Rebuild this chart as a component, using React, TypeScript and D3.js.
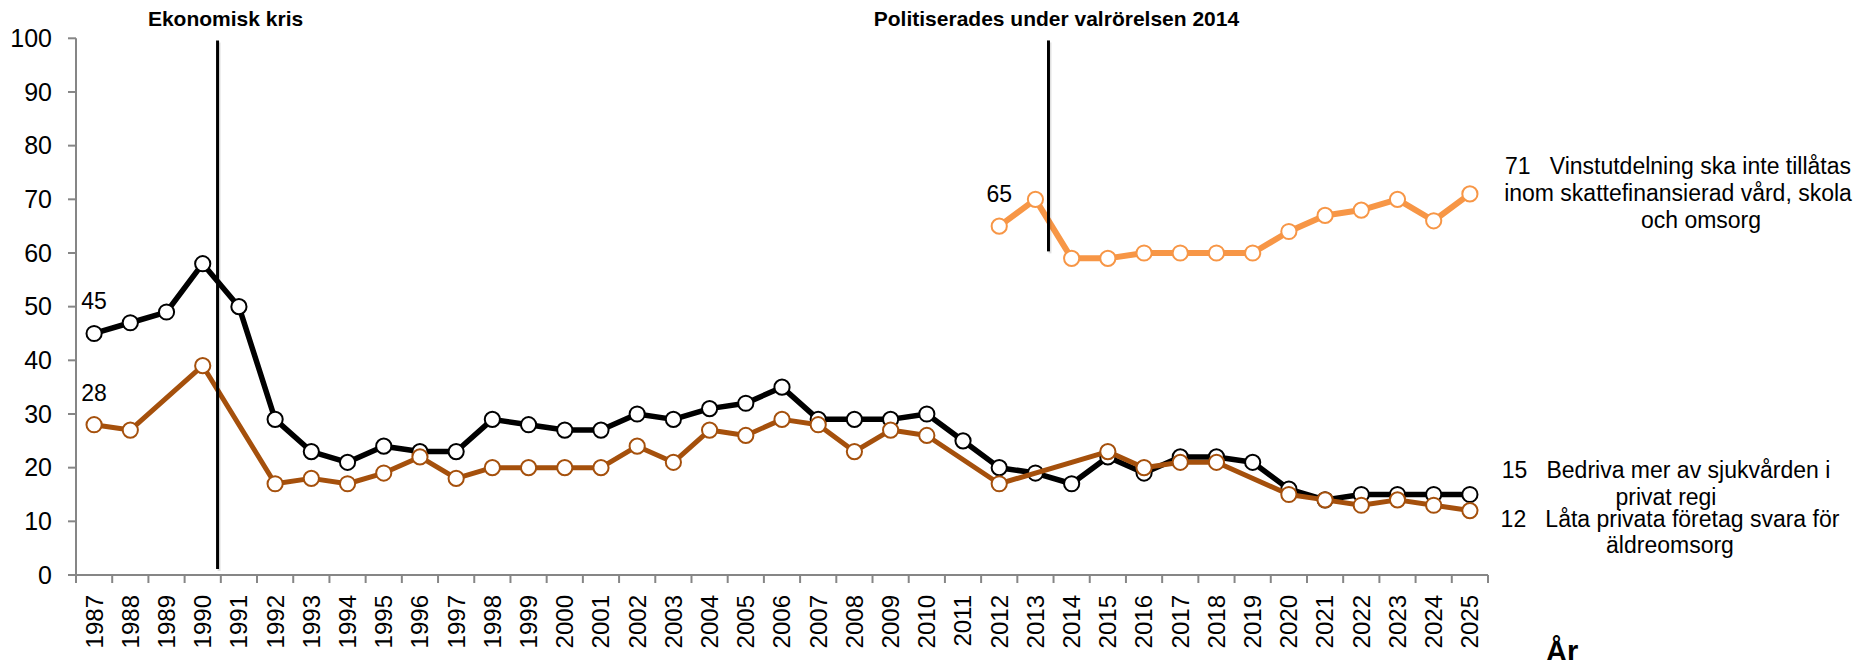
import React from 'react';
import * as d3 from 'd3';

// survey years (x categories)
const YEARS = [
  '1987', '1988', '1989', '1990', '1991', '1992', '1993', '1994', '1995', '1996',
  '1997', '1998', '1999', '2000', '2001', '2002', '2003', '2004', '2005', '2006',
  '2007', '2008', '2009', '2010', '2011', '2012', '2013', '2014', '2015', '2016',
  '2017', '2018', '2019', '2020', '2021', '2022', '2023', '2024', '2025',
];

// Bedriva mer av sjukvården i privat regi
const SJUKVARD: (number | null)[] = [
  45, 47, 49, 58, 50, 29, 23, 21, 24, 23,
  23, 29, 28, 27, 27, 30, 29, 31, 32, 35,
  29, 29, 29, 30, 25, 20, 19, 17, 22, 19,
  22, 22, 21, 16, 14, 15, 15, 15, 15,
];

// Låta privata företag svara för äldreomsorg
const ALDREOMSORG: (number | null)[] = [
  28, 27, null, 39, null, 17, 18, 17, 19, 22,
  18, 20, 20, 20, 20, 24, 21, 27, 26, 29,
  28, 23, 27, 26, null, 17, null, null, 23, 20,
  21, 21, null, 15, 14, 13, 14, 13, 12,
];

// Vinstutdelning ska inte tillåtas inom skattefinansierad vård, skola och omsorg
const VINST: (number | null)[] = [
  null, null, null, null, null, null, null, null, null, null,
  null, null, null, null, null, null, null, null, null, null,
  null, null, null, null, null, 65, 70, 59, 59, 60,
  60, 60, 60, 64, 67, 68, 70, 66, 71,
];

const Y_TICKS = [0, 10, 20, 30, 40, 50, 60, 70, 80, 90, 100];

const W = 1862;
const H = 660;
const FONT = '"Liberation Sans", Arial, Helvetica, sans-serif';
const AXIS = '#868686';

const x = d3.scaleBand<string>().domain(YEARS).range([76, 1488]);
const y = d3.scaleLinear().domain([0, 100]).range([575, 38.3]);
const cx = (yr: string) => (x(yr) ?? 0) + x.bandwidth() / 2;
// continuous year position, for the event markers that sit between years
const xYear = d3.scaleLinear().domain([1987, 2025]).range([cx('1987'), cx('2025')]);

const SERIES = [
  { key: 'sjukvard', values: SJUKVARD, color: '#000000', width: 5.5 },
  { key: 'aldre', values: ALDREOMSORG, color: '#A5500C', width: 5 },
  { key: 'vinst', values: VINST, color: '#F79646', width: 6 },
];

const EVENTS = [
  { label: 'Ekonomisk kris', at: 1990.41, from: 1.1, to: 99.6 },
  { label: 'Politiserades under valrörelsen 2014', at: 2013.36, from: 60.3, to: 99.6 },
];

// first-point value labels
const POINT_LABELS = [
  { series: SJUKVARD, year: '1987' },
  { series: ALDREOMSORG, year: '1987' },
  { series: VINST, year: '2012' },
];

// end labels, right of the plot
const END_LABELS = [
  {
    value: 71,
    lines: ['71   Vinstutdelning ska inte tillåtas', 'inom skattefinansierad vård, skola', 'och omsorg'],
    dxs: [190, 190, 213],
    dys: [-20, 7, 34],
  },
  {
    value: 15,
    lines: ['15   Bedriva mer av sjukvården i', 'privat regi'],
    dxs: [178, 178],
    dys: [-16.5, 10.5],
  },
  {
    value: 12,
    lines: ['12   Låta privata företag svara för', 'äldreomsorg'],
    dxs: [182, 182],
    dys: [16.4, 42.4],
  },
];

const pointsOf = (values: (number | null)[]) =>
  YEARS.map((yr, i) => ({ yr, v: values[i] })).filter(d => d.v !== null) as { yr: string; v: number }[];

const line = d3.line<{ yr: string; v: number }>()
  .x(d => cx(d.yr))
  .y(d => y(d.v));

const App: React.FC = () => {
  const [x0, x1] = x.range();
  const boundaries = YEARS.map(yr => x(yr) ?? 0).concat([x1]);

  return (
    <div style={{ position: 'absolute', left: 0, top: 0 }}>
      <svg width={W} height={H} style={{ display: 'block', fontFamily: FONT }}>
        <rect width={W} height={H} fill="#fff" />

        {/* y axis */}
        <line x1={x0} x2={x0} y1={y(100)} y2={y(0)} stroke={AXIS} strokeWidth={2} />
        {Y_TICKS.map(t => (
          <g key={t}>
            <line x1={x0 - 8} x2={x0} y1={y(t)} y2={y(t)} stroke={AXIS} strokeWidth={2} />
            <text x={52} y={y(t)} dy="0.35em" textAnchor="end" fontSize={25} fill="#000">{t}</text>
          </g>
        ))}

        {/* x axis */}
        <line x1={x0} x2={x1} y1={y(0)} y2={y(0)} stroke={AXIS} strokeWidth={2} />
        {boundaries.map((bx, i) => (
          <line key={i} x1={bx} x2={bx} y1={y(0)} y2={y(0) + 8} stroke={AXIS} strokeWidth={2} />
        ))}
        {YEARS.map(yr => (
          <text
            key={yr}
            transform={`translate(${cx(yr)},${y(0) + 20}) rotate(-90)`}
            dy="0.35em"
            textAnchor="end"
            fontSize={24}
            fill="#000"
          >
            {yr}
          </text>
        ))}
        <text x={1546} y={661} fontSize={29} fontWeight="bold" fill="#000">År</text>

        {/* series */}
        {SERIES.map(s => {
          const pts = pointsOf(s.values);
          return (
            <g key={s.key}>
              <path d={line(pts) ?? ''} fill="none" stroke={s.color} strokeWidth={s.width} strokeLinejoin="round" />
              {pts.map(p => (
                <circle key={p.yr} cx={cx(p.yr)} cy={y(p.v)} r={7.6} fill="#fff" stroke={s.color} strokeWidth={2} />
              ))}
            </g>
          );
        })}

        {/* event markers */}
        {EVENTS.map(e => (
          <g key={e.label}>
            <line
              x1={xYear(e.at) + 1.5} x2={xYear(e.at) + 1.5}
              y1={y(e.to) + 2} y2={y(e.from) + 2}
              stroke="#000" strokeOpacity={0.12} strokeWidth={3}
            />
            <line x1={xYear(e.at)} x2={xYear(e.at)} y1={y(e.to)} y2={y(e.from)} stroke="#000" strokeWidth={3} />
            <text x={xYear(e.at) + 8} y={26} textAnchor="middle" fontSize={21} fontWeight="bold" fill="#000">
              {e.label}
            </text>
          </g>
        ))}

        {/* value labels */}
        {POINT_LABELS.map((l, i) => {
          const v = l.series[YEARS.indexOf(l.year)] as number;
          return (
            <text key={i} x={cx(l.year)} y={y(v) - 24} textAnchor="middle" fontSize={23} fill="#000">{v}</text>
          );
        })}

        {END_LABELS.map(l => (
          <g key={l.value}>
            {l.lines.map((t, i) => (
              <text
                key={i}
                x={x1 + l.dxs[i]}
                y={y(l.value) + l.dys[i]}
                textAnchor="middle"
                fontSize={23}
                fill="#000"
                style={{ whiteSpace: 'pre' }}
              >
                {t}
              </text>
            ))}
          </g>
        ))}
      </svg>
    </div>
  );
};

export default App;
